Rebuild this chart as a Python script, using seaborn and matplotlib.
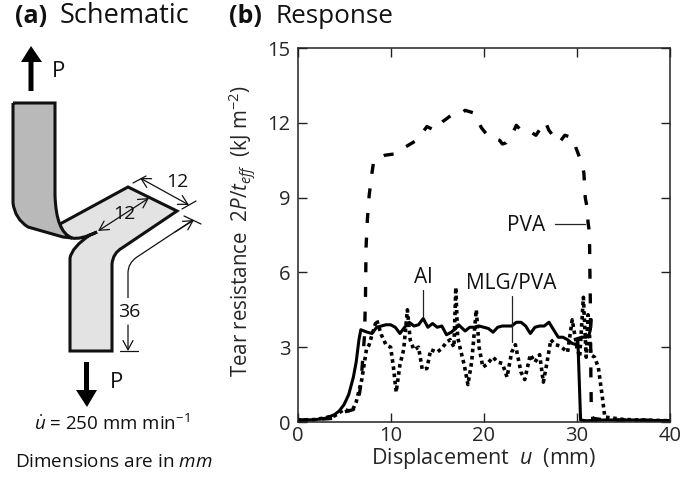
import numpy as np
import pandas as pd
import seaborn as sns
import matplotlib
matplotlib.use("Agg")
import matplotlib.pyplot as plt
from matplotlib.patches import Polygon, PathPatch
from matplotlib.path import Path

# values
al_x = [0, 1, 2, 3, 4, 4.5, 5, 5.5, 6, 6.3, 6.6, 6.8, 7.5, 8, 8.5, 9, 9.5, 10, 10.5, 11, 11.5, 12, 12.5, 13,
        13.5, 14, 14.5, 15, 15.5, 16, 16.5, 17, 17.3, 18, 18.5, 19, 19.5, 20, 20.5, 21, 21.5, 22, 22.5, 23,
        23.5, 24, 24.5, 25, 25.5, 26, 26.5, 27, 27.5, 28, 28.5, 29, 29.5, 30, 30.1, 30.4, 31, 33, 36, 40]
al_y = [0.05, 0.08, 0.1, 0.15, 0.3, 0.45, 0.7, 1.1, 1.8, 2.4, 3.3, 3.7, 3.6, 3.55, 3.8, 3.85, 3.9, 3.9, 3.8, 3.55,
        3.8, 4.0, 3.85, 3.9, 4.15, 3.8, 3.95, 3.8, 3.85, 3.5, 3.6, 3.75, 3.9, 3.65, 3.8, 3.8, 3.85, 3.8, 3.75,
        3.6, 3.8, 3.85, 3.85, 3.85, 4.0, 4.0, 3.85, 3.55, 3.8, 3.85, 3.85, 4.0, 3.7, 3.4, 3.4, 3.3, 3.15, 3.1, 3.35,
        0.08, 0.05, 0.08, 0.08, 0.05]

# short thick piece after the Al drop
tail_x = [30.1, 30.5, 31, 31.3, 31.45, 31.55]
tail_y = [3.35, 3.4, 3.4, 3.5, 3.7, 4.1]

mlg_x = [0, 2, 4, 5, 5.5, 6, 6.3, 6.9, 7.4, 7.7, 8, 8.5, 9, 9.5, 10, 10.3, 10.6, 11, 11.4, 11.8, 12.1, 12.5, 13,
         13.4, 13.9, 14.3, 15, 15.5, 16, 16.4, 16.8, 17, 17.2, 17.5, 17.9, 18.3, 18.7, 19.2, 19.5, 19.9, 20.3,
         21, 21.5, 22, 22.5, 23, 23.4, 24, 24.4, 25, 25.5, 26, 26.4, 26.8, 27.2, 27.7, 28.2, 29, 29.5, 30, 30.3,
         30.7, 31, 31.2, 31.5, 31.9, 32.3, 32.7, 33, 35, 40]
mlg_y = [0.08, 0.1, 0.25, 0.5, 0.45, 0.55, 0.8, 1.7, 2.9, 3.1, 3.5, 4.1, 3.5, 3.1, 3.0, 2.2, 1.2, 2.3, 2.9,
         4.5, 3.3, 2.9, 3.0, 2.1, 2.15, 2.9, 2.8, 2.95, 3.2, 3.3, 3.0, 5.4, 3.4, 2.9, 2.3, 1.5, 2.4, 4.5, 3.0, 2.2, 2.3,
         2.6, 2.4, 2.35, 1.8, 2.8, 3.1, 2.0, 1.7, 2.7, 2.4, 2.7, 1.6, 2.4, 3.3, 3.1, 3.05, 2.8, 4.1, 3.0, 2.6,
         5.0, 2.6, 4.3, 2.7, 2.6, 2.2, 1.1, 0.2, 0.1, 0.05]

pva_x = [0, 2, 4, 5, 6, 6.5, 6.8, 7, 7.2, 7.3, 7.36, 7.5, 7.7, 8, 8.2, 8.8, 9.4, 10.4, 11.2, 11.9, 12.8, 13.9, 14.7,
         15.6, 16.5, 17.3, 18, 18.9, 19.75, 20.5, 21.7, 22, 22.4, 23, 23.5, 24, 24.75, 25.6, 26.6, 27, 27.6,
         28.1, 28.7, 29.6, 29.9, 30.5, 30.75, 30.9, 31.1, 31.2, 31.35, 31.4, 31.45, 31.5, 31.55, 31.7, 33, 36, 40]
pva_y = [0.08, 0.1, 0.15, 0.4, 0.5, 0.75, 1.5, 2.5, 3.5, 5, 7, 8.1, 9.1, 10, 10.5, 10.6, 10.7, 10.75, 10.95, 11.1, 11.3,
         11.85, 11.7, 12.05, 12.3, 12.3, 12.5, 12.4, 11.8, 11.45, 11.3, 11.15, 11.2, 11.5, 11.9, 11.7, 11.7, 11.5,
         12.05, 11.7, 11.4, 11.2, 11.5, 11.4, 11.0, 10.4, 10.0, 9.0, 8.6, 8.0, 7.6, 6.0, 4.7, 2.0, 0.5, 0.15, 0.08, 0.08, 0.05]

x_ticks = [0, 10, 20, 30, 40]
y_ticks = [0, 3, 6, 9, 12, 15]

W, H = 682, 479

sns.set_theme(style="ticks")
plt.rcParams['font.family'] = ['Open Sans', 'DejaVu Sans']
plt.rcParams['mathtext.fontset'] = 'custom'
plt.rcParams['mathtext.rm'] = 'Open Sans'
plt.rcParams['mathtext.it'] = 'Open Sans:italic'
plt.rcParams['mathtext.bf'] = 'Open Sans:bold'
plt.rcParams['text.color'] = '#111111'

fig = plt.figure(figsize=(W / 100, H / 100), dpi=100)

# overlay in pixel coordinates for the schematic and panel titles
bg = fig.add_axes([0, 0, 1, 1])
bg.set_xlim(0, W)
bg.set_ylim(H, 0)
bg.axis("off")

ax = fig.add_axes([297.5 / W, 1 - 422 / H, (670 - 297.5) / W, (422 - 48) / H])

al = pd.DataFrame({"x": al_x, "y": al_y})
tail = pd.DataFrame({"x": tail_x, "y": tail_y})
mlg = pd.DataFrame({"x": mlg_x, "y": mlg_y})
pva = pd.DataFrame({"x": pva_x, "y": pva_y})

sns.lineplot(data=pva, x="x", y="y", color="black", lw=2.4, sort=False, ax=ax,
             linestyle=(0, (3.0, 4.4)))
sns.lineplot(data=mlg, x="x", y="y", color="black", lw=2.6, sort=False, ax=ax,
             linestyle=(0, (1.0, 1.0)))
sns.lineplot(data=al, x="x", y="y", color="black", lw=2.2, sort=False, ax=ax)
sns.lineplot(data=tail, x="x", y="y", color="black", lw=2.2, sort=False, ax=ax)

ax.set_xlim(0, 40)
ax.set_ylim(0, 15)
ax.set_xticks(x_ticks)
ax.set_yticks(y_ticks)
ax.tick_params(direction="in", top=True, right=True, length=6.5, width=1, labelsize=14.5, color="#222222")
ax.tick_params(axis="y", pad=5)
ax.tick_params(axis="x", pad=3)
for s in ax.spines.values():
    s.set_linewidth(1.1)
    s.set_color("#222222")
ax.set_xlabel("Displacement  $u$  (mm)", fontsize=15.5, labelpad=0)
ax.set_ylabel("Tear resistance  $2P/t_{eff}$  (kJ m$^{-2}$)", fontsize=14.8)
ax.yaxis.set_label_coords(-0.106, 0.51)

# curve labels
ax.text(13.5, 5.8, "Al", fontsize=15, ha="center", va="center")
ax.plot([13.5, 13.5], [4.2, 5.3], color="#222222", lw=0.9)
ax.text(23, 5.55, "MLG/PVA", fontsize=15, ha="center", va="center")
ax.plot([23, 23], [3.2, 5.05], color="#222222", lw=0.9)
ax.text(24.5, 7.9, "PVA", fontsize=15, ha="center", va="center")
ax.plot([27.6, 30.9], [7.95, 7.95], color="#222222", lw=0.9)

# panel titles
bg.text(15, 16, "(a)", fontsize=18, fontweight="bold", va="center")
bg.text(60, 16, "Schematic", fontsize=19.5, va="center")
bg.text(229, 16, "(b)", fontsize=18, fontweight="bold", va="center")
bg.text(276, 16, "Response", fontsize=18.8, va="center")

# schematic
dk = "#111111"
MV, L3, L4 = Path.MOVETO, Path.LINETO, Path.CURVE3

front = Path([(60, 224), (128, 187), (177, 211), (122, 248), (113, 253), (112, 264), (112, 351), (70, 351),
              (70, 258), (72, 247), (90, 235), (97, 232), (80, 240), (72, 238), (63, 236), (60, 224)],
             [MV, L3, L3, L3, L4, L4, L3, L3, L3, L4, L4, L3, L4, L4, L4, L4])
bg.add_patch(PathPatch(front, fc="#e3e3e3", ec=dk, lw=2.2, joinstyle="miter"))

back = Path([(13, 103), (55, 103), (55, 195), (56, 232), (72, 238), (63, 237), (28, 227), (15, 219), (13, 203), (13, 103)],
            [MV, L3, L3, L4, L4, L3, L3, L4, L4, L3])
bg.add_patch(PathPatch(back, fc="#b9b9b9", ec=dk, lw=2.2, joinstyle="miter"))


def dim(a, b, style="<->"):
    bg.annotate("", xy=b, xytext=a, arrowprops=dict(arrowstyle=style + ",head_length=0.55,head_width=0.3",
                                                     color=dk, lw=0.9, shrinkA=0, shrinkB=0))


dim((140, 178), (189, 205))
bg.plot([133, 146], [183, 176], color=dk, lw=0.9)
bg.plot([182, 196], [209, 201], color=dk, lw=0.9)
dim((98, 231), (149, 198))

# long 36 dimension with its bend
bend = Path([(128, 298), (128, 273), (128, 263), (137, 257), (193, 220)], [MV, L3, L4, L4, L3])
bg.add_patch(PathPatch(bend, fc="none", ec=dk, lw=0.9))
dim((175, 232), (194, 220), "->")
dim((128, 325), (128, 351), "->")
bg.plot([120, 138], [351, 351], color=dk, lw=0.9)
bg.plot([184, 201], [216, 224], color=dk, lw=0.9)
bg.text(177, 182, "12", fontsize=14, ha="center", va="center")
bg.text(124, 214, "12", fontsize=14, ha="center", va="center")
bg.text(129, 312, "36", fontsize=14, ha="center", va="center")

# load arrows
bg.add_patch(Polygon([(28.5, 91), (33.5, 91), (33.5, 62), (42, 62), (31, 46), (21, 62), (28.5, 62)], fc="black", ec="none"))
bg.add_patch(Polygon([(84, 362), (89, 362), (89, 390), (97, 390), (87, 407), (76, 390), (84, 390)], fc="black", ec="none"))
bg.text(58, 71, "P", fontsize=16, ha="center", va="center")
bg.text(116, 382, "P", fontsize=16, ha="center", va="center")

bg.text(34, 424, r"$\dot{u}$ = 250 mm min$^{-1}$", fontsize=13.5, va="center")
bg.text(15, 462, "Dimensions are in $mm$", fontsize=13.6, va="center")

fig.savefig("out.png", dpi=100, facecolor="white")
